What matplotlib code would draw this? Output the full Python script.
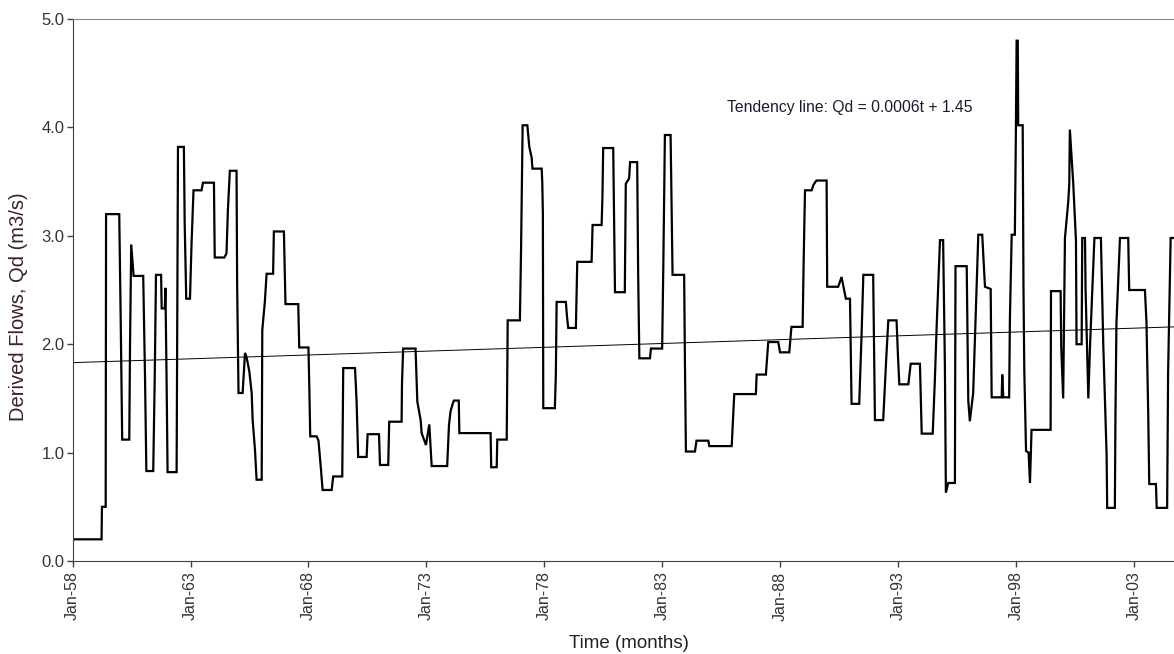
import matplotlib
matplotlib.use("Agg")
import matplotlib.pyplot as plt

plt.rcParams['font.family'] = ['Liberation Sans', 'DejaVu Sans']

# months counted from Jan-58, derived flow values (m3/s)
months = [0, 14.7, 14.9, 16.8, 17.0, 23.7, 24.5, 25.2, 28.8, 29.2, 29.8, 30.5, 31.0, 35.9,
          36.8, 37.5, 41.0, 41.8, 42.4, 45.0, 45.3, 46.9, 47.2, 47.8, 48.3, 52.9, 53.6,
          56.6, 57.0, 57.8, 59.7, 60.5, 61.5, 65.6, 66.3, 71.9, 72.3, 77.2, 78.3, 79.0,
          80.0, 83.4, 83.7, 84.4, 86.5, 87.7, 88.5, 89.9, 91.1, 91.6, 92.8, 93.6, 96.2,
          96.5, 97.8, 98.7, 102.0, 102.4, 107.5, 108.3, 114.8, 115.3, 120.0, 120.5, 120.9,
          124.2, 125.1, 126.3, 127.2, 131.8, 132.6, 137.2, 137.7, 143.7, 144.5, 145.3,
          149.6, 150.1, 155.9, 156.4, 160.6, 161.1, 167.4, 167.6, 168.2, 174.5, 175.4,
          177.1, 177.6, 179.8, 181.5, 182.7, 190.6, 191.5, 192.3, 193.4, 194.0, 196.5,
          196.8, 212.7, 213.0, 215.8, 216.1, 220.9, 221.4, 227.6, 228.2, 229.0, 231.4,
          232.4, 233.6, 234.0, 238.7, 239.0, 239.3, 239.5, 245.4, 245.9, 246.3, 251.0,
          251.6, 252.2, 256.1, 256.8, 264.1, 264.6, 269.2, 269.6, 270.0, 275.1, 275.6,
          276.0, 281.0, 281.5, 283.2, 283.7, 287.3, 287.8, 288.4, 293.8, 294.3, 300.0,
          300.6, 301.0, 301.4, 304.3, 305.3, 311.2, 311.6, 312.1, 316.7, 317.5, 323.5,
          324.0, 335.4, 336.2, 336.7, 347.7, 348.1, 352.8, 354.0, 359.1, 360.0, 364.7,
          365.8, 371.5, 372.0, 372.7, 376.1, 377.0, 378.5, 383.7, 384.0, 389.6, 391.3,
          393.5, 395.6, 396.4, 400.3, 401.5, 402.4, 407.4, 408.0, 408.3, 412.5, 414.0,
          415.1, 419.3, 420.0, 420.7, 425.3, 426.5, 431.2, 432.1, 437.7, 438.8, 439.7,
          441.4, 443.0, 443.9, 444.4, 445.6, 449.0, 449.3, 455.0, 455.8, 456.6, 458.3,
          460.9, 462.9, 464.3, 467.2, 467.7, 472.8, 473.1, 473.6, 476.6, 477.0, 477.9,
          479.5, 480.0, 480.4, 481.0, 481.2, 483.5, 483.9, 484.3, 485.2, 486.5, 487.2,
          488.0, 497.7, 497.9, 502.8, 503.1, 504.1, 505.0, 506.7, 507.2, 507.5, 509.2,
          510.6, 510.9, 513.5, 513.8, 515.2, 515.5, 516.9, 517.8, 520.0, 523.3, 524.5,
          526.2, 526.5, 530.4, 530.7, 531.2, 533.0, 537.2, 537.7, 545.7, 546.5, 547.4,
          547.9, 551.3, 551.7, 557.0, 557.5, 558.8, 560.5]
flows = [0.20, 0.20, 0.50, 0.50, 3.20, 3.20, 2.15, 1.12, 1.12, 2.01, 2.92, 2.75, 2.63, 2.63,
         1.72, 0.83, 0.83, 1.74, 2.64, 2.64, 2.33, 2.33, 2.52, 1.67, 0.82, 0.82, 3.82,
         3.82, 3.12, 2.42, 2.42, 2.93, 3.42, 3.42, 3.49, 3.49, 2.80, 2.80, 2.84, 3.24,
         3.60, 3.60, 2.56, 1.55, 1.55, 1.92, 1.88, 1.75, 1.55, 1.30, 1.02, 0.75, 0.75,
         2.13, 2.39, 2.65, 2.65, 3.04, 3.04, 2.37, 2.37, 1.97, 1.97, 1.55, 1.15,
         1.15, 1.11, 0.86, 0.655, 0.655, 0.78, 0.78, 1.78, 1.78, 1.47, 0.96,
         0.96, 1.17, 1.17, 0.886, 0.886, 1.285, 1.285, 1.64, 1.96, 1.96, 1.47,
         1.30, 1.18, 1.07, 1.26, 0.876, 0.876, 1.25, 1.38, 1.45, 1.48, 1.48,
         1.18, 1.18, 0.865, 0.865, 1.12, 1.12, 2.22, 2.22, 2.87, 4.02, 4.02,
         3.82, 3.72, 3.62, 3.62, 3.49, 3.21, 1.41, 1.41, 1.72, 2.39, 2.39,
         2.25, 2.15, 2.15, 2.76, 2.76, 3.10, 3.10, 3.35, 3.81, 3.81, 3.10,
         2.48, 2.48, 3.48, 3.53, 3.68, 3.68, 2.64, 1.87, 1.87, 1.96, 1.96,
         2.73, 3.36, 3.93, 3.93, 2.64, 2.64, 1.83, 1.01, 1.01, 1.11, 1.11,
         1.06, 1.06, 1.35, 1.54, 1.54, 1.72, 1.72, 2.02, 2.02, 1.925, 1.925,
         2.16, 2.16, 2.75, 3.42, 3.42, 3.47, 3.51, 3.51, 2.53, 2.53, 2.62,
         2.42, 2.42, 1.45, 1.45, 2.09, 2.64, 2.64, 1.71, 1.30, 1.30, 1.85,
         2.22, 2.22, 1.90, 1.63, 1.63, 1.82, 1.82, 1.175, 1.175, 1.67, 2.16,
         2.96, 2.96, 1.80, 0.63, 0.72, 0.72, 2.72, 2.72, 1.48, 1.29, 1.55,
         3.01, 3.01, 2.53, 2.51, 1.51, 1.51, 1.72, 1.51, 1.51, 2.25, 3.01,
         3.01, 3.90, 4.80, 4.80, 4.02, 4.02, 2.51, 1.77, 1.015, 1.00, 0.72,
         1.21, 1.21, 2.49, 2.49, 1.98, 1.50, 2.98, 3.32, 3.48, 3.98, 3.49,
         2.96, 2.00, 2.00, 2.98, 2.98, 2.50, 1.50, 2.00, 2.98, 2.98, 2.00,
         0.98, 0.49, 0.49, 1.34, 2.19, 2.98, 2.98, 2.50, 2.50, 2.20, 1.34,
         0.71, 0.71, 0.49, 0.49, 1.74, 2.98, 2.98]

# tendency line end values
trend_months = [0, 560.5]
trend_values = [1.83, 2.16]

tick_months = [0, 60, 120, 180, 240, 300, 360, 420, 480, 540]
tick_labels = ["Jan-58", "Jan-63", "Jan-68", "Jan-73", "Jan-78",
               "Jan-83", "Jan-88", "Jan-93", "Jan-98", "Jan-03"]
y_ticks = [0.0, 1.0, 2.0, 3.0, 4.0, 5.0]

fig = plt.figure(figsize=(11.74, 6.54), dpi=100)
ax = fig.add_axes([0.0619, 0.1422, 0.9381, 0.8287])

ax.plot(months, flows, color="black", lw=1.6, solid_joinstyle="miter")
ax.plot(trend_months, trend_values, color="black", lw=0.7)

ax.text(333, 4.18, "Tendency line: Qd = 0.0006t + 1.45", fontsize=11.3,
        color="#1a1a2e", va="center", ha="left")

ax.set_xlim(0, 560.5)
ax.set_ylim(0, 5)
ax.set_xticks(tick_months)
ax.set_xticklabels(tick_labels, rotation=90, fontsize=11.5, color="#333333")
ax.set_yticks(y_ticks)
ax.set_yticklabels([f"{v:.1f}" for v in y_ticks], fontsize=12, color="#333333")
ax.tick_params(axis="both", direction="out", length=4, width=1, color="#404040")
ax.tick_params(axis="y", pad=2)

ax.spines["right"].set_visible(False)
ax.spines["top"].set_color("#8a8a8a")
ax.spines["top"].set_linewidth(0.8)
ax.spines["left"].set_color("#404040")
ax.spines["bottom"].set_color("#404040")

ax.set_xlabel("Time (months)", fontsize=13.5, color="#222222")
ax.set_ylabel("Derived Flows, Qd (m3/s)", fontsize=14.5, color="#3a2222")
ax.yaxis.set_label_coords(-0.041, 0.47)
ax.xaxis.set_label_coords(0.505, -0.137)

fig.savefig("out.png", dpi=100)
